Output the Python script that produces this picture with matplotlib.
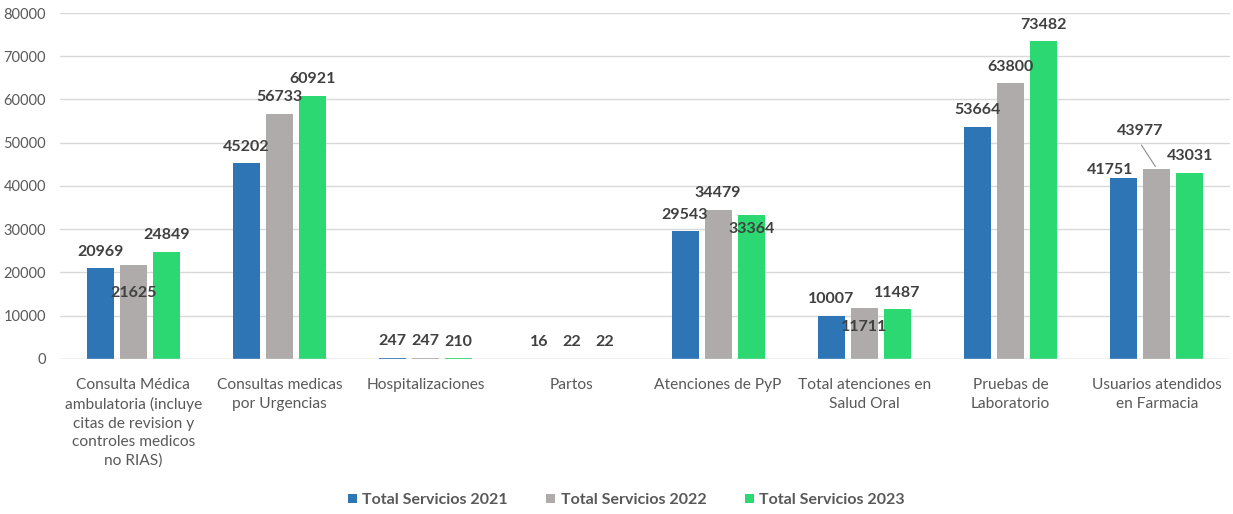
import numpy as np
import matplotlib.pyplot as plt

plt.rcParams['font.family'] = ['Lato', 'DejaVu Sans']

# datos
categorias = [
    "Consulta Médica\nambulatoria (incluye\ncitas de revision y\ncontroles medicos\nno RIAS)",
    "Consultas medicas\npor Urgencias",
    "Hospitalizaciones",
    "Partos",
    "Atenciones de PyP",
    "Total atenciones en\nSalud Oral",
    "Pruebas de\nLaboratorio",
    "Usuarios atendidos\nen Farmacia",
]
series = ["Total Servicios 2021", "Total Servicios 2022", "Total Servicios 2023"]
v2021 = [20969, 45202, 247, 16, 29543, 10007, 53664, 41751]
v2022 = [21625, 56733, 247, 22, 34479, 11711, 63800, 43977]
v2023 = [24849, 60921, 210, 22, 33364, 11487, 73482, 43031]

colores = ["#2E75B6", "#AFABAB", "#2BD872"]
texto = "#595959"

# desplazamientos de etiquetas (px) que no van encima de la barra
ajustes = {
    (0, 1): (0, -27.5),
    (4, 2): (0, -14),
    (5, 1): (0, -18.5),
    (7, 0): (-14, 8),
    (7, 1): (-17, 38),
}

fig = plt.figure(figsize=(12.33, 5.14), dpi=100)
ax = fig.add_axes([0.0487, 0.3016, 0.9489, 0.6731])

x = np.arange(len(categorias))
ancho = 0.185
paso = 0.226
px2pt = 72 / 100

for s, (nombre, vals) in enumerate(zip(series, [v2021, v2022, v2023])):
    pos = x + (s - 1) * paso
    ax.bar(pos, vals, width=ancho, color=colores[s], label=nombre, zorder=3)
    for i, v in enumerate(vals):
        dx, dy = ajustes.get((i, s), (0, 16.5))
        ax.annotate(str(v), (pos[i], v), xytext=(dx * px2pt, dy * px2pt),
                    textcoords="offset points", ha="center", va="center",
                    fontsize=11.5, fontweight="bold", color="#404040", zorder=5)
        if (i, s) == (7, 1):
            ax.annotate("", (pos[i], v), xytext=(dx * px2pt, (dy - 12) * px2pt),
                        textcoords="offset points",
                        arrowprops=dict(arrowstyle="-", color="#8C8C8C", lw=0.8))

ax.set_ylim(0, 80000)
ax.set_xlim(-0.5, len(categorias) - 0.5)
ax.set_yticks(np.arange(0, 80001, 10000))
ax.yaxis.grid(True, color="#D9D9D9", lw=1, zorder=0)
for sp in ax.spines.values():
    sp.set_visible(False)
ax.axhline(0, color="#D9D9D9", lw=1, zorder=4)
ax.tick_params(axis="y", length=0, colors=texto, labelsize=10.5, pad=10)
ax.set_xticks(x)
ax.set_xticklabels(categorias, linespacing=1.4, va="top")
ax.tick_params(axis="x", length=0, colors=texto, labelsize=11.2, pad=14)

leg = fig.legend(loc="center", bbox_to_anchor=(0.508, 0.027), ncol=3, frameon=False,
                 handlelength=0.55, handleheight=0.55, handletextpad=0.35,
                 columnspacing=2.4, prop={"weight": "bold", "size": 11.5})
for t in leg.get_texts():
    t.set_color(texto)

fig.savefig("out.png", dpi=100)
